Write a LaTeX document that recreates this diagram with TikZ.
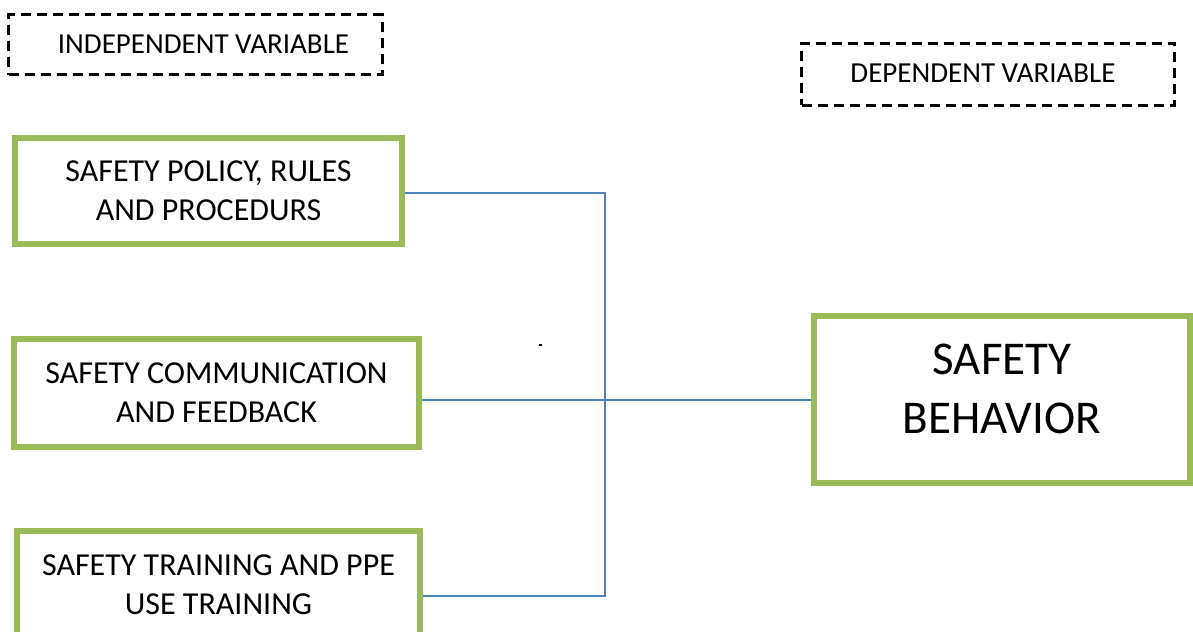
\documentclass[tikz,border=0pt]{standalone}
\usepackage{fontspec}
\setmainfont{Carlito}
\definecolor{boxgreen}{HTML}{9BBB59}
\definecolor{linkblue}{HTML}{4F81BD}
\begin{document}
\begin{tikzpicture}[x=1bp,y=-1bp,
  gbox/.style={draw=boxgreen, line width=6bp, rectangle, inner sep=0pt, align=center,
    font=\fontsize{32bp}{39bp}\selectfont},
  bigtext/.style={font=\fontsize{47bp}{59bp}\selectfont, align=center, inner sep=0pt},
  dbox/.style={draw=black, line width=3bp, dash pattern=on 10bp off 6bp, rectangle, inner sep=0pt},
  dtext/.style={font=\fontsize{29bp}{35bp}\selectfont, inner sep=0pt},
  link/.style={draw=linkblue, line width=2bp}]
\useasboundingbox (0,0) rectangle (1193,632);
% dashed headings
\node[dbox, minimum width=373bp, minimum height=60bp,
  label={[dtext, xshift=8bp, yshift=1bp]center:INDEPENDENT VARIABLE}] (iv) at (195.5,45) {};
\node[dbox, minimum width=373bp, minimum height=62bp,
  label={[dtext, xshift=-5bp, yshift=1.5bp]center:DEPENDENT VARIABLE}] (dv) at (988,74.5) {};
% independent variable boxes
\node[gbox, minimum width=387bp, minimum height=106bp] (A) at (208.5,191) {SAFETY POLICY, RULES\\AND PROCEDURS};
\node[gbox, minimum width=405bp, minimum height=108bp] (B) at (216.5,393) {SAFETY COMMUNICATION\\AND FEEDBACK};
\node[gbox, minimum width=403bp, minimum height=108bp] (C) at (218.5,585) {SAFETY TRAINING AND PPE\\USE TRAINING};
% dependent variable box
\node[gbox, minimum width=376bp, minimum height=167bp,
  label={[bigtext, yshift=11bp]center:SAFETY\\BEHAVIOR}] (R) at (1002,399.5) {};
% connectors
\coordinate (j1) at (605,193);
\coordinate (j3) at (605,596);
\draw[link] (A.east |- j1) -- (j1) -- (j3) -- (C.east |- j3);
\draw[link] (B.east |- R.west) -- (R.west);
% stray dot
\fill[black] (538.5,344) rectangle (541.5,346);
\end{tikzpicture}
\end{document}
